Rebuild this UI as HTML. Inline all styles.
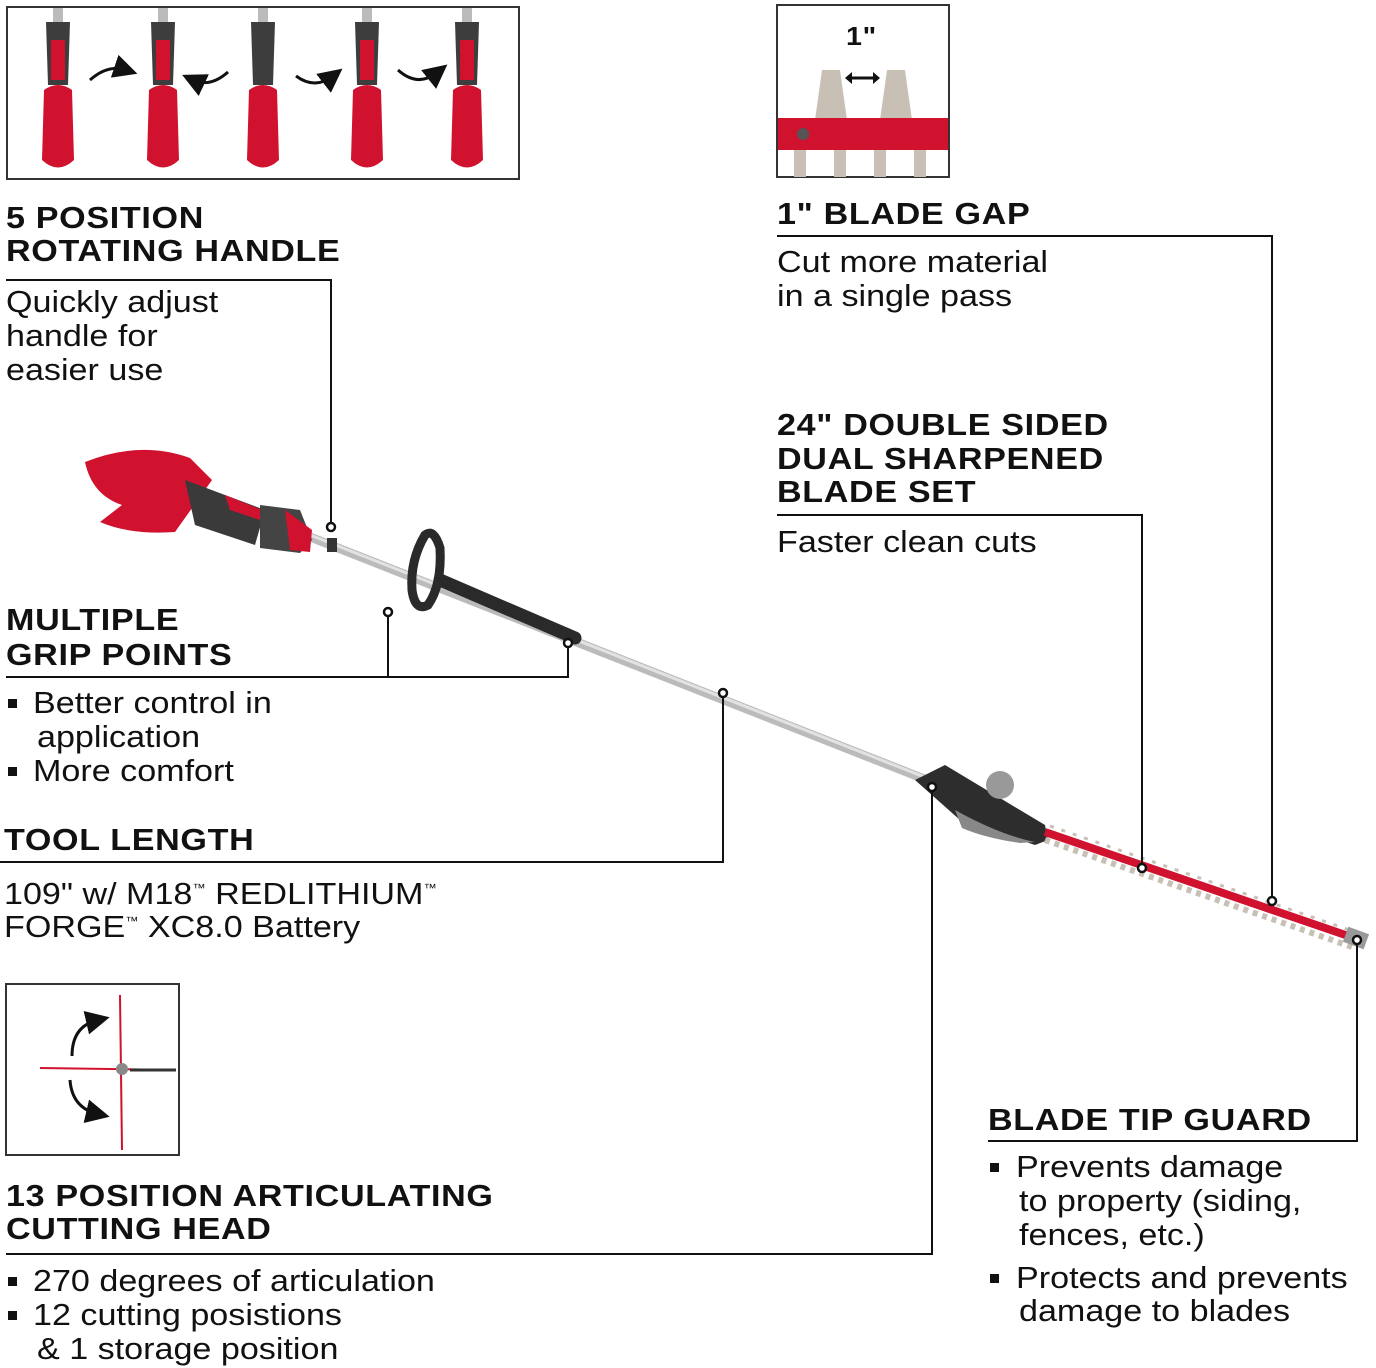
<!DOCTYPE html>
<html><head><meta charset="utf-8"><style>
html,body{margin:0;padding:0;background:#fff;}
body{width:1376px;height:1368px;position:relative;overflow:hidden;font-family:"Liberation Sans",Arial,sans-serif;color:#111;}
.h{position:absolute;font-weight:bold;font-size:31px;line-height:34px;letter-spacing:0.6px;white-space:nowrap;transform:scaleX(1.1);transform-origin:0 0;}
.t{position:absolute;font-size:31px;line-height:34px;white-space:nowrap;transform:scaleX(1.1);transform-origin:0 0;}
.b{position:absolute;width:9px;height:9px;background:#111;}
sup{font-size:12px;vertical-align:12px;}
svg{position:absolute;left:0;top:0;}
</style></head><body>
<svg width="1376" height="1368" viewBox="0 0 1376 1368">
<defs><marker id="ah" markerWidth="8" markerHeight="8" refX="4" refY="4" orient="auto"><path d="M0 0 L8 4 L0 8 Z" fill="#111"/></marker></defs>
<rect x="7" y="7" width="512" height="172" fill="#fff" stroke="#333" stroke-width="2"/>
<rect x="777" y="5" width="172" height="172" fill="#fff" stroke="#333" stroke-width="2"/>
<rect x="6" y="984" width="173" height="171" fill="#fff" stroke="#333" stroke-width="2"/>
<g>
<g transform="translate(58,0)"><rect x="-5" y="8" width="10" height="18" fill="#bbb"/><path d="M-12 22 L12 22 L10 85 L-10 85 Z" fill="#3d3d3d"/><rect x="-7" y="40" width="14" height="40" fill="#d0122f"/><path d="M-14 90 Q0 80 14 90 L16 160 Q0 175 -16 160 Z" fill="#d0122f"/></g>
<g transform="translate(163,0)"><rect x="-5" y="8" width="10" height="18" fill="#bbb"/><path d="M-12 22 L12 22 L10 85 L-10 85 Z" fill="#3d3d3d"/><rect x="-7" y="40" width="14" height="40" fill="#d0122f"/><path d="M-14 90 Q0 80 14 90 L16 160 Q0 175 -16 160 Z" fill="#d0122f"/></g>
<g transform="translate(263,0)"><rect x="-5" y="8" width="10" height="18" fill="#bbb"/><path d="M-12 22 L12 22 L10 85 L-10 85 Z" fill="#3d3d3d"/><path d="M-14 90 Q0 80 14 90 L16 160 Q0 175 -16 160 Z" fill="#d0122f"/></g>
<g transform="translate(367,0)"><rect x="-5" y="8" width="10" height="18" fill="#bbb"/><path d="M-12 22 L12 22 L10 85 L-10 85 Z" fill="#3d3d3d"/><rect x="-7" y="40" width="14" height="40" fill="#d0122f"/><path d="M-14 90 Q0 80 14 90 L16 160 Q0 175 -16 160 Z" fill="#d0122f"/></g>
<g transform="translate(467,0)"><rect x="-5" y="8" width="10" height="18" fill="#bbb"/><path d="M-12 22 L12 22 L10 85 L-10 85 Z" fill="#3d3d3d"/><rect x="-7" y="40" width="14" height="40" fill="#d0122f"/><path d="M-14 90 Q0 80 14 90 L16 160 Q0 175 -16 160 Z" fill="#d0122f"/></g>
<g fill="none" stroke="#111" stroke-width="3" marker-end="url(#ah)">
<path d="M90 80 Q108 64 126 70"/><path d="M228 72 Q210 88 193 80"/><path d="M296 76 Q315 90 333 76"/><path d="M398 70 Q418 88 438 72"/>
</g>
</g>
<path d="M815 120 L822 70 L840 70 L847 120 Z" fill="#c9c0b5"/><path d="M880 120 L887 70 L905 70 L912 120 Z" fill="#c9c0b5"/>
<rect x="778" y="118" width="170" height="32" fill="#d0122f"/>
<circle cx="803" cy="134" r="6" fill="#555"/>
<path d="M800 150 L800 177 M840 150 L840 177 M880 150 L880 177 M920 150 L920 177" stroke="#c9c0b5" stroke-width="12"/>
<path d="M847 78 L878 78" stroke="#111" stroke-width="3"/><path d="M845 78 l7 -6 v12z M880 78 l-7 -6 v12z" fill="#111"/>
<path d="M40 1068 L176 1070" stroke="#d0122f" stroke-width="2"/>
<path d="M120 995 L122 1150" stroke="#d0122f" stroke-width="2"/>
<path d="M130 1070 L176 1070" stroke="#333" stroke-width="3"/>
<circle cx="122" cy="1069" r="6" fill="#888"/>
<g fill="none" stroke="#111" stroke-width="3"><path d="M72 1056 Q72 1026 98 1020" marker-end="url(#ah)"/><path d="M70 1080 Q72 1108 98 1114" marker-end="url(#ah)"/></g>
<path d="M305 535 L932 782" stroke="#bbb" stroke-width="9" stroke-linecap="round"/>
<path d="M305 533 L932 780" stroke="#e2e2e2" stroke-width="3"/>
<path d="M440 580 L575 638" stroke="#2a2a2a" stroke-width="13" stroke-linecap="round"/>
<path d="M425 535 Q410 560 412 590 Q415 612 428 605 Q442 585 440 548 Q434 528 425 535 Z" fill="none" stroke="#2a2a2a" stroke-width="9"/>
<path d="M85 462 Q140 440 190 458 L212 480 L175 532 Q130 535 100 522 L122 505 Q92 495 85 462 Z" fill="#d0122f"/>
<path d="M185 480 L265 510 L255 545 L195 525 Z" fill="#3a3a3a"/>
<path d="M225 495 L262 510 L260 520 L230 510 Z" fill="#d0122f"/>
<path d="M260 505 L300 510 L312 540 L300 553 L260 548 Z" fill="#444"/>
<path d="M285 510 L312 530 L310 552 L290 550 Z" fill="#d0122f"/>
<rect x="327" y="538" width="10" height="14" fill="#333"/>
<path d="M915 780 L945 765 L1045 825 L1048 840 L1035 845 L960 820 Z" fill="#2d2d2d"/>
<path d="M955 810 Q1000 835 1035 842 L1020 843 Q985 838 962 828 Z" fill="#888"/>
<circle cx="1000" cy="785" r="14" fill="#999"/>
<path d="M1045 832 L1360 940" stroke="#d0122f" stroke-width="8"/>
<path d="M1045 840 L1355 948" stroke="#c9c0b5" stroke-width="6" stroke-dasharray="5 5"/>
<path d="M1050 826 L1358 933" stroke="#c9c0b5" stroke-width="3" stroke-dasharray="4 8"/>
<rect x="1345" y="930" width="22" height="16" fill="#999" transform="rotate(20 1356 938)"/>
<g fill="none" stroke="#111" stroke-width="2">
<path d="M6 280 H331 V527"/>
<path d="M6 677 H568 V643 M388 677 V612"/>
<path d="M0 862 H723 V693"/>
<path d="M6 1254 H932 V787"/>
<path d="M777 236 H1272 V901"/>
<path d="M777 515 H1142 V868"/>
<path d="M988 1141 H1357 V940"/>
</g>
<g fill="#fff" stroke="#111" stroke-width="2.5">
<circle cx="331" cy="527" r="4"/><circle cx="388" cy="612" r="4"/><circle cx="568" cy="643" r="4"/><circle cx="723" cy="693" r="4"/><circle cx="932" cy="787" r="4"/><circle cx="1142" cy="868" r="4"/><circle cx="1272" cy="901" r="4"/><circle cx="1357" cy="940" r="4"/>
</g>
</svg>
<div class="h" style="left:6px;top:201px">5 POSITION</div>
<div class="h" style="left:6px;top:234px">ROTATING HANDLE</div>
<div class="t" style="left:6px;top:285px">Quickly adjust</div>
<div class="t" style="left:6px;top:319px">handle for</div>
<div class="t" style="left:6px;top:353px">easier use</div>
<div class="h" style="left:6px;top:603px">MULTIPLE</div>
<div class="h" style="left:6px;top:638px">GRIP POINTS</div>
<div class="b" style="left:8px;top:699px"></div><div class="t" style="left:33px;top:686px">Better control in</div>
<div class="t" style="left:37px;top:720px">application</div>
<div class="b" style="left:8px;top:767px"></div><div class="t" style="left:33px;top:754px">More comfort</div>
<div class="h" style="left:4px;top:823px">TOOL LENGTH</div>
<div class="t" style="left:4px;top:871px">109" w/ M18<sup>™</sup> REDLITHIUM<sup>™</sup></div>
<div class="t" style="left:4px;top:904px">FORGE<sup>™</sup> XC8.0 Battery</div>
<div class="h" style="left:6px;top:1179px">13 POSITION ARTICULATING</div>
<div class="h" style="left:6px;top:1212px">CUTTING HEAD</div>
<div class="b" style="left:8px;top:1277px"></div><div class="t" style="left:33px;top:1264px">270 degrees of articulation</div>
<div class="b" style="left:8px;top:1311px"></div><div class="t" style="left:33px;top:1298px">12 cutting posistions</div>
<div class="t" style="left:37px;top:1332px">&amp; 1 storage position</div>
<div class="h" style="left:846px;top:19px;font-size:26px">1"</div>
<div class="h" style="left:777px;top:197px">1" BLADE GAP</div>
<div class="t" style="left:777px;top:245px">Cut more material</div>
<div class="t" style="left:777px;top:279px">in a single pass</div>
<div class="h" style="left:777px;top:408px">24" DOUBLE SIDED</div>
<div class="h" style="left:777px;top:442px">DUAL SHARPENED</div>
<div class="h" style="left:777px;top:475px">BLADE SET</div>
<div class="t" style="left:777px;top:525px">Faster clean cuts</div>
<div class="h" style="left:988px;top:1103px">BLADE TIP GUARD</div>
<div class="b" style="left:990px;top:1163px"></div><div class="t" style="left:1016px;top:1150px">Prevents damage</div>
<div class="t" style="left:1019px;top:1184px">to property (siding,</div>
<div class="t" style="left:1019px;top:1218px">fences, etc.)</div>
<div class="b" style="left:990px;top:1274px"></div><div class="t" style="left:1016px;top:1261px">Protects and prevents</div>
<div class="t" style="left:1019px;top:1294px">damage to blades</div>
</body></html>
